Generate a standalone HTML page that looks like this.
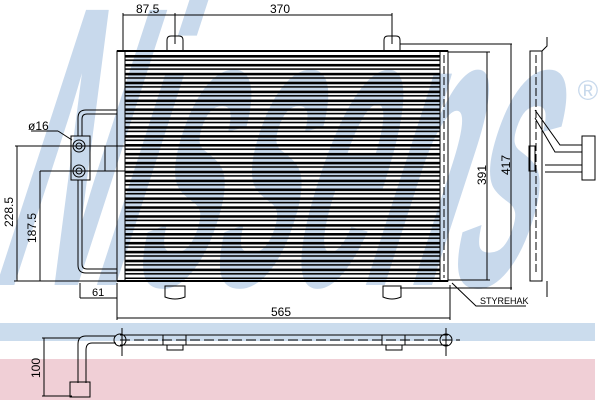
<!DOCTYPE html>
<html><head><meta charset="utf-8"><style>
html,body{margin:0;padding:0;background:#fff;}
svg{display:block;font-family:"Liberation Sans",sans-serif;}
</style></head><body>
<svg width="600" height="400" viewBox="0 0 600 400" xmlns="http://www.w3.org/2000/svg">
<defs>
<pattern id="fins" x="0" y="55" width="10" height="8.9" patternUnits="userSpaceOnUse">
<rect x="0" y="0" width="10" height="2.6" fill="#000"/>
<rect x="0" y="4.4" width="10" height="1.6" fill="#000"/>
</pattern>
</defs>
<rect x="0" y="323" width="595" height="18" fill="#cbdced"/>
<rect x="0" y="359" width="595" height="41" fill="#f0cfd6"/>
<g transform="skewX(-18)">
<text x="345" y="285" font-size="400" font-weight="bold" fill="#c8d9ec" textLength="530" lengthAdjust="spacingAndGlyphs" text-anchor="middle" font-family="Liberation Sans, sans-serif">Nissens</text>
</g>
<text x="588" y="100" font-size="28" fill="#c8d9ec" text-anchor="middle">®</text>
<g stroke="#000" fill="none" stroke-width="1">
<rect x="125" y="55" width="315" height="224" fill="url(#fins)" stroke="none"/>
<rect x="117" y="51" width="8" height="230"/>
<rect x="440" y="51" width="8" height="230"/>
<line x1="117" y1="51" x2="448" y2="51" stroke-width="2"/>
<line x1="117" y1="281" x2="448" y2="281" stroke-width="2"/>
<line x1="444" y1="55" x2="444" y2="278" stroke-dasharray="8,3"/>
<path d="M167 51 V40 Q167 36 171 36 H179 Q183 36 183 40 V51"/>
<path d="M384 51 V40 Q384 36 388 36 H396 Q400 36 400 40 V51"/>
<path d="M165 297 V286 H185 V297 Q175 301 165 297Z"/>
<path d="M383 297 V286 H401 V297 Q392 301 383 297Z"/>
<line x1="123" y1="15" x2="392" y2="15"/>
<line x1="123" y1="13" x2="123" y2="51"/>
<line x1="175" y1="13" x2="175" y2="44"/>
<line x1="392" y1="13" x2="392" y2="44"/>
<line x1="400" y1="44" x2="512" y2="44"/>
<line x1="448" y1="52" x2="490" y2="52"/>
<line x1="487" y1="52" x2="487" y2="280"/>
<line x1="511" y1="44" x2="511" y2="290"/>
<line x1="448" y1="280" x2="490" y2="280"/>
<line x1="400" y1="288" x2="512" y2="288"/>
<rect x="530" y="51" width="12" height="230"/>
<line x1="536" y1="55" x2="536" y2="275" stroke-dasharray="8,3"/>
<path d="M542 51 L547 46 V37 M547 281 V297"/>
<path d="M535 110 L560 145 H582 M535 118 L555 152 H582 M545 165 H582 M545 172 H582"/>
<rect x="582" y="136" width="13" height="44"/>
<rect x="529" y="146" width="6" height="25"/>
<rect x="71" y="136" width="19" height="44"/>
<circle cx="79" cy="146" r="6"/><circle cx="79" cy="146" r="3"/>
<circle cx="79" cy="171" r="6"/><circle cx="79" cy="171" r="3"/>
<path d="M90 146 L105 146 H125 M90 171 L105 171 H125 M105 146 V171"/>
<path d="M78 136 V118 Q78 110 86 110 H117 M82 136 V119 Q82 114 87 114 H117"/>
<path d="M78 180 V265 Q78 273 86 273 H117 M82 180 V264 Q82 269 87 269 H117"/>
<line x1="31" y1="131" x2="58" y2="131"/><line x1="58" y1="131" x2="72" y2="140"/>
<line x1="15" y1="146" x2="90" y2="146"/>
<line x1="40" y1="171" x2="90" y2="171"/>
<line x1="17" y1="146" x2="17" y2="281"/>
<line x1="40" y1="171" x2="40" y2="281"/>
<line x1="14" y1="281" x2="117" y2="281"/>
<line x1="80" y1="283" x2="80" y2="298"/>
<line x1="80" y1="298" x2="117" y2="298"/>
<line x1="117" y1="283" x2="117" y2="320"/>
<line x1="117" y1="318" x2="450" y2="318"/>
<line x1="450" y1="285" x2="450" y2="320"/>
<path d="M452 283 L476 306 H526"/>
<line x1="120" y1="335" x2="448" y2="335"/>
<line x1="120" y1="345" x2="448" y2="345"/>
<line x1="120" y1="340" x2="460" y2="340" stroke-dasharray="10,4"/>
<circle cx="120" cy="340" r="6"/><circle cx="446" cy="340" r="6"/>
<line x1="122" y1="328" x2="122" y2="356"/><line x1="446" y1="328" x2="446" y2="356"/>
<rect x="163" y="335" width="23" height="10"/><rect x="167" y="345" width="16" height="5"/>
<rect x="382" y="335" width="23" height="10"/><rect x="386" y="345" width="16" height="5"/>
<path d="M116 336 H86 Q78 336 78 344 V383 M116 343 H92 Q86 343 86 350 V383"/>
<rect x="70" y="382" width="20" height="15"/>
<line x1="42" y1="338" x2="80" y2="338"/>
<line x1="42" y1="396" x2="72" y2="396"/>
<line x1="44" y1="338" x2="44" y2="396"/>
</g>
<g font-size="12" fill="#000">
<text x="136" y="13">87.5</text>
<text x="270" y="13">370</text>
<text x="28" y="130">ø16</text>
<text x="92" y="296" font-size="11">61</text>
<text x="271" y="316">565</text>
<text x="480" y="304" font-size="9">STYREHAK</text>
<text transform="translate(486,175) rotate(-90)" text-anchor="middle">391</text>
<text transform="translate(510,165) rotate(-90)" text-anchor="middle">417</text>
<text transform="translate(13,212) rotate(-90)" text-anchor="middle">228.5</text>
<text transform="translate(36,228) rotate(-90)" text-anchor="middle">187.5</text>
<text transform="translate(40,368) rotate(-90)" text-anchor="middle">100</text>
</g>
</svg>
</body></html>
